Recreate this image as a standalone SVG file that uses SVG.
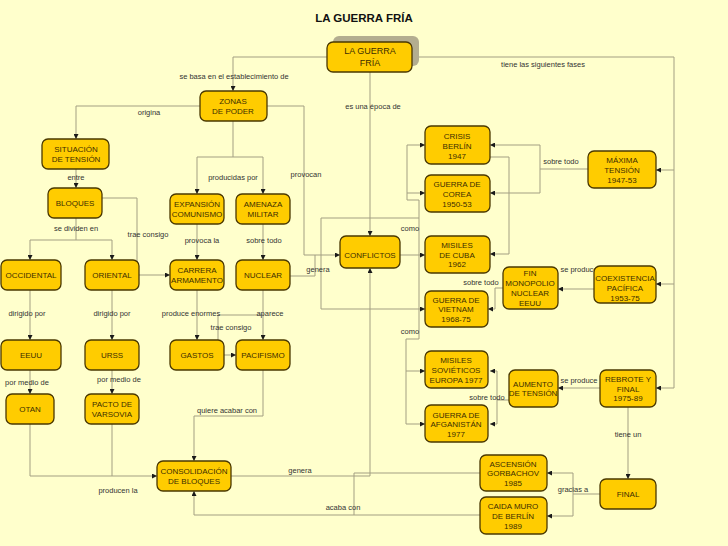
<svg xmlns="http://www.w3.org/2000/svg" width="728" height="546" viewBox="0 0 728 546">
<defs>
<marker id="ar" viewBox="0 0 6 6" refX="6" refY="3" markerWidth="5" markerHeight="5" markerUnits="userSpaceOnUse" orient="auto">
<path d="M0,0 L6,3 L0,6 z" fill="#1a1a1a"/>
</marker>
<style>
.n rect{fill:#ffcc00;stroke:#4a3800;stroke-width:1.3}
.n text{font-family:"Liberation Sans",Arial,sans-serif;font-size:8px;fill:#3d2e00;text-anchor:middle}
.c path{fill:none;stroke:#a39f82;stroke-width:1}
.c .a{marker-end:url(#ar)}
.l text{font-family:"Liberation Sans",Arial,sans-serif;font-size:7.5px;fill:#333;text-anchor:middle}
</style>
</defs>
<rect width="728" height="546" fill="#ffffcc"/>
<text x="364" y="22" font-family="'Liberation Sans',Arial,sans-serif" font-size="11.5" font-weight="bold" fill="#111" text-anchor="middle">LA GUERRA FRÍA</text>

<g class="c">
<path class="a" d="M327,57 H233 V91"/>
<path d="M412,57 H674 V388"/>
<path class="a" d="M674,170 H656"/>
<path class="a" d="M674,284 H656"/>
<path class="a" d="M674,388 H656"/>
<path class="a" d="M370,72 V236"/>
<path class="a" d="M200,106 H76 V139"/>
<path d="M233,121 V157 M197,157 H263"/>
<path class="a" d="M197,157 V194"/>
<path class="a" d="M263,157 V194"/>
<path class="a" d="M267,106 H304 V255 H340"/>
<path class="a" d="M76,169 V188"/>
<path d="M76,218 V240 M30,240 H112"/>
<path class="a" d="M30,240 V260"/>
<path class="a" d="M112,240 V260"/>
<path class="a" d="M102,198 H137 V275 H170"/>
<path class="a" d="M197,224 V260"/>
<path class="a" d="M263,224 V260"/>
<path class="a" d="M30,290 V340"/>
<path class="a" d="M112,290 V340"/>
<path class="a" d="M197,290 V340"/>
<path class="a" d="M263,290 V340"/>
<path d="M218,315 H263"/>
<path class="a" d="M218,315 V355 H236"/>
<path class="a" d="M30,370 V394"/>
<path class="a" d="M112,370 V394"/>
<path class="a" d="M30,424 V476 H157"/>
<path d="M112,424 V476"/>
<path class="a" d="M263,370 V416 H194 V461"/>
<path class="a" d="M231,476 H370 V268"/>
<path class="a" d="M480,515 H194 V491"/>
<path d="M480,473 H354 V515"/>
<path d="M290,276 H315 V255"/>
<path class="a" d="M400,255 H425"/>
<path class="a" d="M419,255 V200 H407 V145 H425"/>
<path class="a" d="M407,193 H425"/>
<path class="a" d="M419,218 H321 V309 H425"/>
<path class="a" d="M419,255 V339 H406 V424 H425"/>
<path class="a" d="M406,371 H425"/>
<path d="M588,169 H540 M540,145 V193"/>
<path class="a" d="M540,145 H490"/>
<path class="a" d="M540,193 H490"/>
<path class="a" d="M425,157 H509 V254 H490"/>
<path class="a" d="M594,289 H558"/>
<path class="a" d="M503,288 H495 V309 H488"/>
<path class="a" d="M600,388 H558"/>
<path d="M509,400 H497"/>
<path class="a" d="M497,400 V371 H490"/>
<path class="a" d="M497,400 V424 H490"/>
<path class="a" d="M628,407 V479"/>
<path d="M600,494 H573 M573,473 V516"/>
<path class="a" d="M573,473 H547"/>
<path class="a" d="M573,516 H547"/>
</g>

<g class="l">
<text x="234" y="79">se basa en el establecimiento de</text>
<text x="543" y="67">tiene las siguientes fases</text>
<text x="373" y="109">es una época de</text>
<text x="149" y="115">origina</text>
<text x="233" y="180">producidas por</text>
<text x="306" y="177">provocan</text>
<text x="76" y="180">entre</text>
<text x="76" y="231">se dividen en</text>
<text x="148" y="237">trae consigo</text>
<text x="202" y="243">provoca la</text>
<text x="264" y="243">sobre todo</text>
<text x="318" y="272">genera</text>
<text x="410" y="231">como</text>
<text x="410" y="334">como</text>
<text x="561" y="164">sobre todo</text>
<text x="579" y="272">se produce</text>
<text x="481" y="285">sobre todo</text>
<text x="27" y="316">dirigido por</text>
<text x="112" y="316">dirigido por</text>
<text x="191" y="316">produce enormes</text>
<text x="270" y="316">aparece</text>
<text x="231" y="330">trae consigo</text>
<text x="27" y="385">por medio de</text>
<text x="119" y="382">por medio de</text>
<text x="579" y="383">se produce</text>
<text x="487" y="400">sobre todo</text>
<text x="227" y="413">quiere acabar con</text>
<text x="628" y="437">tiene un</text>
<text x="118" y="493">producen la</text>
<text x="300" y="473">genera</text>
<text x="573" y="492">gracias a</text>
<text x="343" y="510">acaba con</text>
</g>

<g id="guerra-fria" class="n">
<rect x="333" y="36" width="86" height="30" rx="6" fill="#b3ad8f" style="fill:#b3ad90;stroke:none"/>
<rect x="327" y="42" width="85" height="30" rx="6"/>
<text x="370" y="54" style="font-size:9px">LA GUERRA</text>
<text x="370" y="66" style="font-size:9px">FRÍA</text>
</g>
<g id="zonas" class="n"><rect x="200" y="91" width="67" height="30" rx="6"/><text x="233" y="104">ZONAS</text><text x="233" y="114">DE PODER</text></g>
<g id="situacion" class="n"><rect x="42" y="139" width="67" height="30" rx="6"/><text x="76" y="152">SITUACIÓN</text><text x="76" y="162">DE TENSIÓN</text></g>
<g id="bloques" class="n"><rect x="48" y="188" width="54" height="30" rx="6"/><text x="75" y="206">BLOQUES</text></g>
<g id="expansion" class="n"><rect x="170" y="194" width="54" height="30" rx="6"/><text x="197" y="207">EXPANSIÓN</text><text x="197" y="217">COMUNISMO</text></g>
<g id="amenaza" class="n"><rect x="236" y="194" width="54" height="30" rx="6"/><text x="263" y="207">AMENAZA</text><text x="263" y="217">MILITAR</text></g>
<g id="occidental" class="n"><rect x="1" y="260" width="60" height="30" rx="6"/><text x="31" y="278">OCCIDENTAL</text></g>
<g id="oriental" class="n"><rect x="85" y="260" width="54" height="30" rx="6"/><text x="112" y="278">ORIENTAL</text></g>
<g id="carrera" class="n"><rect x="170" y="260" width="54" height="30" rx="6"/><text x="197" y="273">CARRERA</text><text x="197" y="283">ARMAMENTO</text></g>
<g id="nuclear" class="n"><rect x="236" y="260" width="54" height="30" rx="6"/><text x="263" y="278">NUCLEAR</text></g>
<g id="eeuu" class="n"><rect x="1" y="340" width="60" height="30" rx="6"/><text x="31" y="358">EEUU</text></g>
<g id="urss" class="n"><rect x="85" y="340" width="54" height="30" rx="6"/><text x="112" y="358">URSS</text></g>
<g id="gastos" class="n"><rect x="170" y="340" width="54" height="30" rx="6"/><text x="197" y="358">GASTOS</text></g>
<g id="pacifismo" class="n"><rect x="236" y="340" width="54" height="30" rx="6"/><text x="263" y="358">PACIFISMO</text></g>
<g id="otan" class="n"><rect x="6" y="394" width="48" height="30" rx="6"/><text x="30" y="412">OTAN</text></g>
<g id="pacto" class="n"><rect x="85" y="394" width="54" height="30" rx="6"/><text x="112" y="407">PACTO DE</text><text x="112" y="417">VARSOVIA</text></g>
<g id="consolidacion" class="n"><rect x="157" y="461" width="74" height="30" rx="6"/><text x="194" y="474">CONSOLIDACIÓN</text><text x="194" y="484">DE BLOQUES</text></g>
<g id="conflictos" class="n"><rect x="340" y="236" width="60" height="32" rx="6"/><text x="370" y="258">CONFLICTOS</text></g>
<g id="crisis" class="n"><rect x="425" y="126" width="65" height="38" rx="6"/><text x="457" y="139">CRISIS</text><text x="457" y="149">BERLÍN</text><text x="457" y="159">1947</text></g>
<g id="corea" class="n"><rect x="425" y="175" width="65" height="37" rx="6"/><text x="457" y="187">GUERRA DE</text><text x="457" y="197">COREA</text><text x="457" y="207">1950-53</text></g>
<g id="cuba" class="n"><rect x="425" y="236" width="65" height="37" rx="6"/><text x="457" y="248">MISILES</text><text x="457" y="258">DE CUBA</text><text x="457" y="267">1962</text></g>
<g id="vietnam" class="n"><rect x="425" y="291" width="63" height="36" rx="6"/><text x="456" y="303">GUERRA DE</text><text x="456" y="312">VIETNAM</text><text x="456" y="322">1968-75</text></g>
<g id="sovieticos" class="n"><rect x="425" y="351" width="63" height="37" rx="6"/><text x="456" y="363">MISILES</text><text x="456" y="373">SOVIÉTICOS</text><text x="456" y="383">EUROPA 1977</text></g>
<g id="afganistan" class="n"><rect x="425" y="405" width="63" height="37" rx="6"/><text x="456" y="418">GUERRA DE</text><text x="456" y="427">AFGANISTÁN</text><text x="456" y="437">1977</text></g>
<g id="maxima" class="n"><rect x="588" y="151" width="68" height="37" rx="6"/><text x="622" y="163">MÁXIMA</text><text x="622" y="173">TENSIÓN</text><text x="622" y="183">1947-53</text></g>
<g id="fin" class="n"><rect x="503" y="267" width="55" height="42" rx="6"/><text x="530" y="276">FIN</text><text x="530" y="286">MONOPOLIO</text><text x="530" y="296">NUCLEAR</text><text x="530" y="306">EEUU</text></g>
<g id="coexistencia" class="n"><rect x="594" y="266" width="62" height="37" rx="6"/><text x="625" y="281">COEXISTENCIA</text><text x="625" y="291">PACÍFICA</text><text x="625" y="301">1953-75</text></g>
<g id="aumento" class="n"><rect x="509" y="370" width="49" height="37" rx="6"/><text x="533" y="387">AUMENTO</text><text x="533" y="396">DE TENSIÓN</text></g>
<g id="rebrote" class="n"><rect x="600" y="370" width="56" height="37" rx="6"/><text x="628" y="382">REBROTE Y</text><text x="628" y="392">FINAL</text><text x="628" y="401">1975-89</text></g>
<g id="ascension" class="n"><rect x="480" y="455" width="67" height="36" rx="6"/><text x="513" y="467">ASCENSIÓN</text><text x="513" y="476">GORBACHOV</text><text x="513" y="486">1985</text></g>
<g id="caida" class="n"><rect x="480" y="497" width="67" height="37" rx="6"/><text x="513" y="509">CAIDA MURO</text><text x="513" y="519">DE BERLÍN</text><text x="513" y="529">1989</text></g>
<g id="final" class="n"><rect x="600" y="479" width="56" height="30" rx="6"/><text x="628" y="497">FINAL</text></g>
</svg>
